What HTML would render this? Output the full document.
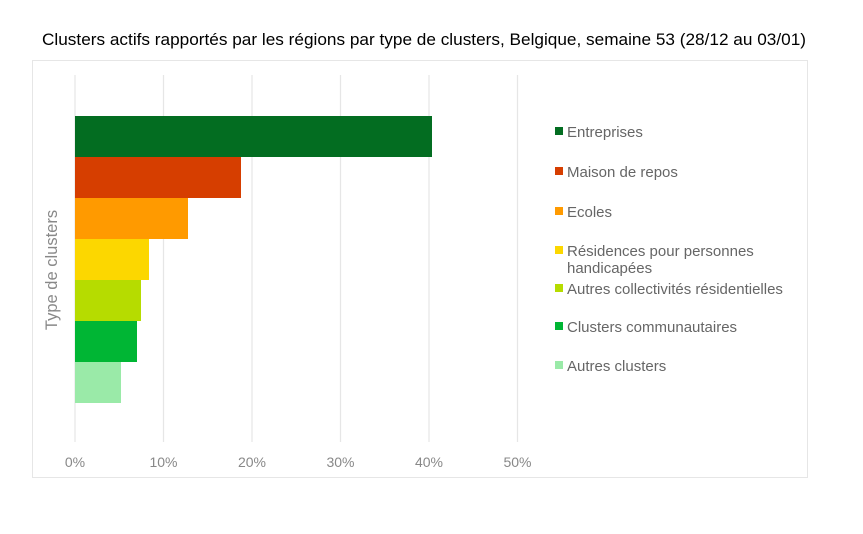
<!DOCTYPE html>
<html><head><meta charset="utf-8"><style>
body{margin:0;background:#fff;}
</style></head><body>
<svg width="863" height="534" xmlns="http://www.w3.org/2000/svg" style="display:block;font-family:'Liberation Sans',sans-serif">
<rect width="863" height="534" fill="#fff"/>
<text x="42" y="45" font-size="16.5" fill="#000" textLength="764" lengthAdjust="spacingAndGlyphs">Clusters actifs rapportés par les régions par type de clusters, Belgique, semaine 53 (28/12 au 03/01)</text>
<rect x="32.5" y="60.5" width="775" height="417" fill="none" stroke="#e6e6e6"/>
<g stroke="#e6e6e6" stroke-width="1.2">
<line x1="75" y1="75" x2="75" y2="442"/>
<line x1="163.5" y1="75" x2="163.5" y2="442"/>
<line x1="252" y1="75" x2="252" y2="442"/>
<line x1="340.5" y1="75" x2="340.5" y2="442"/>
<line x1="429" y1="75" x2="429" y2="442"/>
<line x1="517.5" y1="75" x2="517.5" y2="442"/>
</g>
<rect x="75" y="116" width="357" height="41" fill="#036d21"/>
<rect x="75" y="157" width="166" height="41" fill="#d63e00"/>
<rect x="75" y="198" width="113" height="41" fill="#ff9a00"/>
<rect x="75" y="239" width="74" height="41" fill="#fcd700"/>
<rect x="75" y="280" width="66" height="41" fill="#b6dc00"/>
<rect x="75" y="321" width="62" height="41" fill="#00b634"/>
<rect x="75" y="362" width="46" height="41" fill="#9aeaa8"/>
<g font-size="14" fill="#888" text-anchor="middle">
<text x="75" y="467">0%</text><text x="163.5" y="467">10%</text><text x="252" y="467">20%</text>
<text x="340.5" y="467">30%</text><text x="429" y="467">40%</text><text x="517.5" y="467">50%</text>
</g>
<text transform="translate(57,270) rotate(-90)" text-anchor="middle" font-size="16.5" fill="#888">Type de clusters</text>
<g font-size="15" fill="#666">
<rect x="555" y="127" width="8" height="8" fill="#036d21"/><text x="567" y="137">Entreprises</text>
<rect x="555" y="167" width="8" height="8" fill="#d63e00"/><text x="567" y="177">Maison de repos</text>
<rect x="555" y="207" width="8" height="8" fill="#ff9a00"/><text x="567" y="217">Ecoles</text>
<rect x="555" y="246" width="8" height="8" fill="#fcd700"/><text x="567" y="256">Résidences pour personnes</text><text x="567" y="273">handicapées</text>
<rect x="555" y="284" width="8" height="8" fill="#b6dc00"/><text x="567" y="294">Autres collectivités résidentielles</text>
<rect x="555" y="322" width="8" height="8" fill="#00b634"/><text x="567" y="332">Clusters communautaires</text>
<rect x="555" y="361" width="8" height="8" fill="#9aeaa8"/><text x="567" y="371">Autres clusters</text>
</g>
</svg>
</body></html>
